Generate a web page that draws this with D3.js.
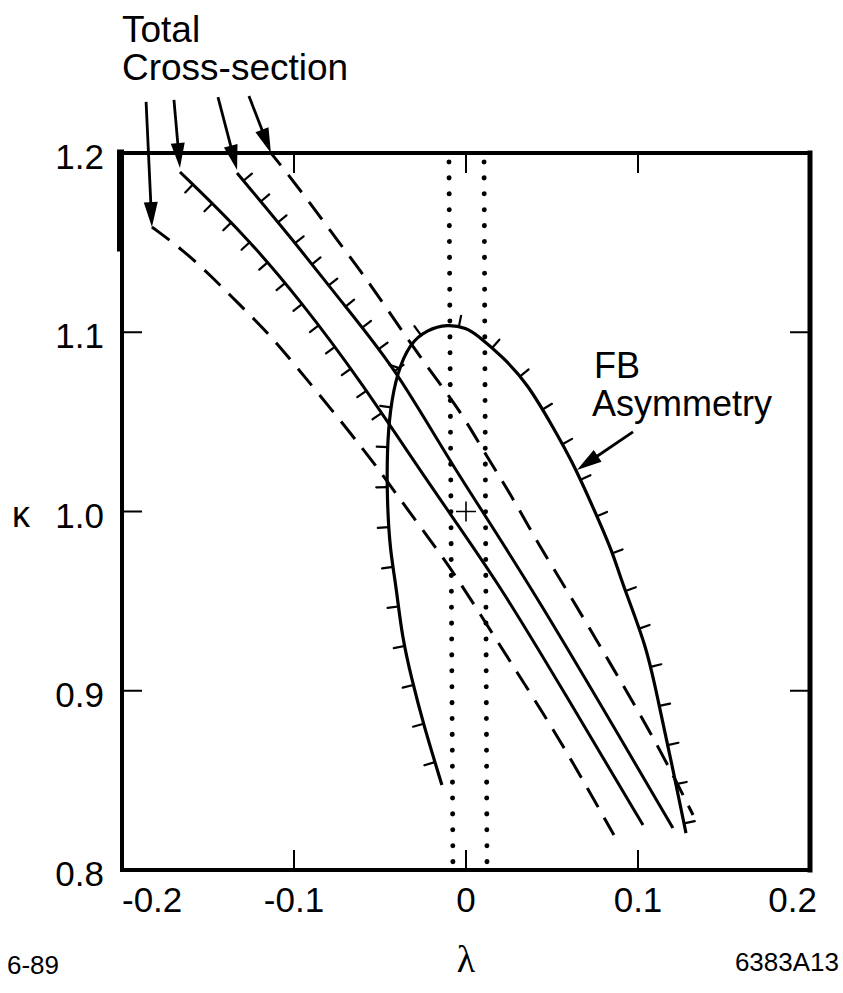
<!DOCTYPE html>
<html><head><meta charset="utf-8">
<script src="https://cdn.jsdelivr.net/npm/d3@7"></script>
<style>body{margin:0;background:#fff} svg{display:block}</style>
</head><body>
<svg id="c" width="843" height="993"></svg>
<script>
// ---------- data (λ, κ) ----------
const xTicks = [-0.2, -0.1, 0, 0.1, 0.2];
const xTickLabels = ["-0.2", "-0.1", "0", "0.1", "0.2"];
const yTicks = [0.8, 0.9, 1.0, 1.1, 1.2];
const yTickLabels = ["0.8", "0.9", "1.0", "1.1", "1.2"];
const innerXTicks = [-0.1, 0, 0.1];
const leftYTicks = [0.9, 1.0, 1.1];
const rightYTicks = [0.9, 1.1];

// total cross-section band: outer dashed limits and hatched solid limits
const dashedLower = [[-0.1826,1.1587],[-0.1645,1.1459],[-0.1471,1.1303],[-0.1314,1.1152],[-0.1151,1.0996],[-0.0983,1.0806],[-0.0558,1.0304],[-0.0424,1.0120],[-0.0151,0.9768],[-0.0017,0.9579],[0.0314,0.9077],[0.0558,0.8709],[0.0860,0.8195]];
const solidLower = [[-0.1663,1.1894],[-0.1297,1.1554],[-0.0965,1.1180],[-0.0616,1.0734],[-0.0192,1.0120],[0.0180,0.9618],[0.0587,0.8965],[0.1029,0.8251]];
const solidUpper = [[-0.1331,1.1888],[-0.1006,1.1515],[-0.0733,1.1180],[-0.0401,1.0789],[-0.0093,1.0271],[0.0360,0.9618],[0.1203,0.8234]];
const dashedUpper = [[-0.1134,1.2000],[-0.1041,1.1888],[-0.0907,1.1721],[-0.0762,1.1531],[-0.0616,1.1347],[-0.0442,1.1107],[-0.0227,1.0806],[-0.0035,1.0566],[0.0122,1.0304],[0.0256,1.0103],[0.0430,0.9802],[0.0587,0.9562],[0.0837,0.9155],[0.1110,0.8709],[0.1320,0.8307]];

// FB asymmetry contour
const fbContour = [[-0.0140,0.8474],[-0.0250,0.8820],[-0.0314,0.9060],[-0.0372,0.9300],[-0.0407,0.9590],[-0.0442,0.9785],[-0.0459,1.0064],[-0.0459,1.0343],[-0.0442,1.0566],[-0.0401,1.0773],[-0.0326,1.0940],[-0.0227,1.1013],[-0.0110,1.1046],[0.0006,1.1024],[0.0064,1.0985],[0.0215,1.0862],[0.0355,1.0717],[0.0506,1.0471],[0.0622,1.0271],[0.0738,1.0025],[0.0855,0.9768],[0.0907,0.9601],[0.1052,0.9244],[0.1116,0.8948],[0.1198,0.8586],[0.1279,0.8206]];

// dotted vertical limits
const dottedLeft = [[-0.0099,1.195],[-0.0076,0.802]];
const dottedRight = [[0.0105,1.195],[0.0122,0.802]];
const crossPoint = [0, 1.0];

// annotation arrows [from, to]
const tcArrows = [
  [[-0.1860,1.2285],[-0.1826,1.1587]],
  [[-0.1698,1.2296],[-0.1663,1.1916]],
  [[-0.1442,1.2312],[-0.1331,1.1905]],
  [[-0.1262,1.2318],[-0.1134,1.2000]]
];
const fbArrow = [[0.0971,1.0444],[0.0645,1.0232]];

// ---------- drawing ----------
const svg = d3.select("#c");
const x = d3.scaleLinear().domain([-0.2, 0.2]).range([122, 810]);
const y = d3.scaleLinear().domain([0.8, 1.2]).range([870, 153]);
const FONT = "'Liberation Sans', Arial, Helvetica, sans-serif";

const smoothLine = d3.line().x(d => x(d[0])).y(d => y(d[1])).curve(d3.curveBasis);
const straight = d3.line().x(d => x(d[0])).y(d => y(d[1]));

// frame
const x0 = x(-0.2), x1 = x(0.2), yT = y(1.2), yB = y(0.8);
const frame = svg.append("g").attr("stroke", "#000").attr("stroke-linecap", "square");
frame.append("line").attr("x1", x0).attr("x2", x1).attr("y1", yT).attr("y2", yT).attr("stroke-width", 4);
frame.append("line").attr("x1", x0).attr("x2", x1).attr("y1", yB).attr("y2", yB).attr("stroke-width", 4);
frame.append("line").attr("x1", x0).attr("x2", x0).attr("y1", yT).attr("y2", yB).attr("stroke-width", 4);
frame.append("line").attr("x1", x1).attr("x2", x1).attr("y1", yT).attr("y2", yB).attr("stroke-width", 5);
frame.append("line").attr("x1", x0 - 1.5).attr("x2", x0 - 1.5).attr("y1", yT).attr("y2", y(1.147)).attr("stroke-width", 7);

// ticks
const tk = svg.append("g").attr("stroke", "#000").attr("stroke-width", 2);
innerXTicks.forEach(v => {
  tk.append("line").attr("x1", x(v)).attr("x2", x(v)).attr("y1", yB).attr("y2", yB - 20);
  tk.append("line").attr("x1", x(v)).attr("x2", x(v)).attr("y1", yT).attr("y2", yT + 20);
});
leftYTicks.forEach(v => tk.append("line").attr("x1", x0).attr("x2", x0 + 20).attr("y1", y(v)).attr("y2", y(v)));
rightYTicks.forEach(v => tk.append("line").attr("x1", x1).attr("x2", x1 - 20).attr("y1", y(v)).attr("y2", y(v)));

// tick labels
yTicks.forEach((v, i) => {
  svg.append("text").attr("x", 104).attr("y", y(v) + 16).attr("text-anchor", "end")
    .attr("font-family", FONT).attr("font-size", 35).text(yTickLabels[i]);
});
xTicks.forEach((v, i) => {
  const anchor = i === 0 ? "start" : (i === xTicks.length - 1 ? "end" : "middle");
  const px = i === 0 ? x0 : (i === xTicks.length - 1 ? x1 + 7 : x(v));
  svg.append("text").attr("x", px).attr("y", 912).attr("text-anchor", anchor)
    .attr("font-family", FONT).attr("font-size", 35).text(xTickLabels[i]);
});

// axis titles and notes
svg.append("text").attr("x", 12).attr("y", 527).attr("font-family", FONT).attr("font-size", 36).text("κ");
svg.append("text").attr("x", x(0)).attr("y", 972).attr("text-anchor", "middle")
  .attr("font-family", "'Liberation Serif', 'DejaVu Serif', serif").attr("font-size", 38).text("λ");
svg.append("text").attr("x", 7).attr("y", 974).attr("font-family", FONT).attr("font-size", 26).text("6-89");
svg.append("text").attr("x", 839).attr("y", 971).attr("text-anchor", "end").attr("font-family", FONT).attr("font-size", 26).text("6383A13");

// annotation texts
svg.append("text").attr("x", 122).attr("y", 42).attr("font-family", FONT).attr("font-size", 37).text("Total");
svg.append("text").attr("x", 122).attr("y", 80).attr("font-family", FONT).attr("font-size", 37).text("Cross-section");
svg.append("text").attr("x", 594).attr("y", 378).attr("font-family", FONT).attr("font-size", 36).text("FB");
svg.append("text").attr("x", 592).attr("y", 416).attr("font-family", FONT).attr("font-size", 36).text("Asymmetry");

// dotted lines
[dottedLeft, dottedRight].forEach(d => {
  svg.append("path").attr("d", straight(d)).attr("fill", "none").attr("stroke", "#000")
    .attr("stroke-width", 5).attr("stroke-linecap", "round").attr("stroke-dasharray", "0.1 15.8");
});

// curves
const pA = svg.append("path").attr("d", smoothLine(dashedLower)).attr("fill", "none").attr("stroke", "#000")
  .attr("stroke-width", 3).attr("stroke-dasharray", "22 12");
const pD = svg.append("path").attr("d", smoothLine(dashedUpper)).attr("fill", "none").attr("stroke", "#000")
  .attr("stroke-width", 3).attr("stroke-dasharray", "22 12").attr("stroke-dashoffset", 6);
const pB = svg.append("path").attr("d", smoothLine(solidLower)).attr("fill", "none").attr("stroke", "#000").attr("stroke-width", 3);
const pC = svg.append("path").attr("d", smoothLine(solidUpper)).attr("fill", "none").attr("stroke", "#000").attr("stroke-width", 3);
const pF = svg.append("path").attr("d", smoothLine(fbContour)).attr("fill", "none").attr("stroke", "#000").attr("stroke-width", 3.2);

// hatching helper (side: +1 = left of travel direction, -1 = right)
const fbPoly = fbContour.map(d => [x(d[0]), y(d[1])]);
function hatch(pathSel, start, step, len, side, stopInside) {
  const node = pathSel.node();
  const L = node.getTotalLength();
  const g = svg.append("g").attr("stroke", "#000").attr("stroke-width", 2.2).attr("stroke-linecap", "round");
  for (let s = start; s < L - 4; s += step) {
    const p = node.getPointAtLength(s);
    if (stopInside && d3.polygonContains(fbPoly, [p.x, p.y])) break;
    const a = node.getPointAtLength(Math.max(0, s - 2)), b = node.getPointAtLength(Math.min(L, s + 2));
    let dx = b.x - a.x, dy = b.y - a.y; const n = Math.hypot(dx, dy) || 1; dx /= n; dy /= n;
    const nx = side * dy, ny = -side * dx;
    g.append("line").attr("x1", p.x).attr("y1", p.y).attr("x2", p.x + nx * len).attr("y2", p.y + ny * len);
  }
}
hatch(pB, 18, 27, 11, -1, true);
hatch(pC, 10, 27, 11, 1, true);
hatch(pF, 24, 40, 11, 1, false);

// cross marker
const cx = x(crossPoint[0]), cy = y(crossPoint[1]);
svg.append("path").attr("d", `M${cx - 10},${cy}H${cx + 10}M${cx},${cy - 10}V${cy + 10}`)
  .attr("stroke", "#000").attr("stroke-width", 1.6);

// arrows
function arrow(a) {
  const sx = x(a[0][0]), sy = y(a[0][1]), tx = x(a[1][0]), ty = y(a[1][1]);
  let dx = tx - sx, dy = ty - sy; const n = Math.hypot(dx, dy); dx /= n; dy /= n;
  const hl = 25, hw = 7;
  const bx = tx - dx * hl, by = ty - dy * hl;
  svg.append("line").attr("x1", sx).attr("y1", sy).attr("x2", bx + dx * 2).attr("y2", by + dy * 2)
    .attr("stroke", "#000").attr("stroke-width", 2.8);
  svg.append("path").attr("d", `M${tx},${ty}L${bx - dy * hw},${by + dx * hw}L${bx + dy * hw},${by - dx * hw}Z`).attr("fill", "#000");
}
tcArrows.forEach(arrow);
arrow(fbArrow);
</script>
</body></html>
